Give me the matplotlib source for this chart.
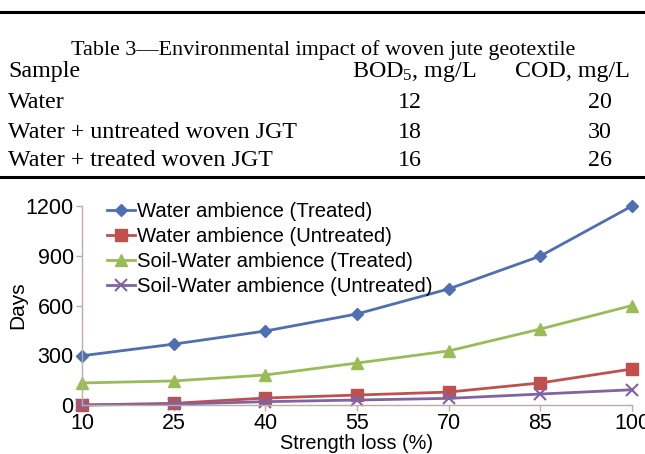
import matplotlib
matplotlib.use("Agg")
import matplotlib.pyplot as plt
from matplotlib.lines import Line2D

# ---- table data ----
table_title = "Table 3\u2014Environmental impact of woven jute geotextile"
col_headers = ["Sample", "BOD$_5$, mg/L", "COD, mg/L"]
samples = ["Water", "Water + untreated woven JGT", "Water + treated woven JGT"]
bod5 = [12, 18, 16]
cod = [20, 30, 26]

# ---- chart data ----
strength_loss = [10, 25, 40, 55, 70, 85, 100]
water_treated = [297, 367, 446, 549, 700, 898, 1200]
water_untreated = [0, 10, 42, 60, 78, 133, 217]
soil_treated = [133, 145, 181, 253, 326, 458, 600]
soil_untreated = [0, 5, 20, 30, 40, 66, 92]
series_labels = ["Water ambience (Treated)", "Water ambience (Untreated)",
                 "Soil-Water ambience (Treated)", "Soil-Water ambience (Untreated)"]
y_ticks = [0, 300, 600, 900, 1200]

plt.rcParams['mathtext.fontset'] = 'custom'
plt.rcParams['mathtext.rm'] = 'Liberation Serif'
plt.rcParams['mathtext.it'] = 'Liberation Serif:italic'

W, H = 645, 454
fig = plt.figure(figsize=(W / 100, H / 100), dpi=100)

def fx(px):
    return px / W

def fy(py):
    return 1 - py / H

serif = dict(family="Liberation Serif", fontsize=17.3, color="black")

# table borders
fig.add_artist(Line2D([0, 1], [fy(12), fy(12)], color="black", lw=2.2, transform=fig.transFigure))
fig.add_artist(Line2D([0, 1], [fy(177), fy(177)], color="black", lw=2.2, transform=fig.transFigure))

fig.text(fx(323), fy(50), table_title, ha="center", va="center",
         family="Liberation Serif", fontsize=15.9, color="black")
fig.text(fx(8), fy(72), col_headers[0], ha="left", va="center", **serif)
fig.text(fx(414), fy(72), col_headers[1], ha="center", va="center", **serif)
fig.text(fx(572), fy(72), col_headers[2], ha="center", va="center", **serif)
row_y = [102.5, 132.5, 161]
for s, b, c, ry in zip(samples, bod5, cod, row_y):
    fig.text(fx(8), fy(ry), s, ha="left", va="center", **serif)
    fig.text(fx(410), fy(ry), str(b), ha="center", va="center", **serif)
    fig.text(fx(600), fy(ry), str(c), ha="center", va="center", **serif)

# ---- chart ----
ax = fig.add_axes([fx(82), fy(405), fx(632) - fx(82), fy(206) - fy(405)])
sans = "Liberation Sans"
colors = ["#4F6FB0", "#C0504D", "#9BBB59", "#8064A2"]
markers = ["D", "s", "^", "x"]
msizes = [6, 8, 8, 8]
for vals, lab, c, m, ms in zip([water_treated, water_untreated, soil_treated, soil_untreated],
                               series_labels, colors, markers, msizes):
    ax.plot(strength_loss, vals, color=c, marker=m, markersize=ms, lw=2,
            label=lab, clip_on=False, markeredgewidth=1.5 if m == "x" else 1)

ax.set_xlim(10, 100)
ax.set_ylim(0, 1200)
ax.set_xticks(strength_loss)
ax.set_yticks(y_ticks)
for sp in ["top", "right"]:
    ax.spines[sp].set_visible(False)
for sp in ["left", "bottom"]:
    ax.spines[sp].set_color("#BBADA5")
    ax.spines[sp].set_linewidth(1)
ax.tick_params(axis="both", colors="#BBADA5", length=4, width=1, labelcolor="black",
               labelsize=15.5, pad=2)
for lbl in ax.get_xticklabels() + ax.get_yticklabels():
    lbl.set_family(sans)
ax.set_ylabel("Days", family=sans, fontsize=15)
ax.yaxis.set_label_coords(-0.099, 0.5)
ax.set_xlabel("Strength loss (%)", family=sans, fontsize=14.3)
ax.xaxis.set_label_coords(0.5, -0.145)

leg = ax.legend(loc="upper left", bbox_to_anchor=(0.03, 1.06), frameon=False,
                prop={"family": sans, "size": 14.6}, handlelength=1.4,
                handletextpad=0.1, labelspacing=0.3, borderaxespad=0)

fig.savefig("out.png", dpi=100)
